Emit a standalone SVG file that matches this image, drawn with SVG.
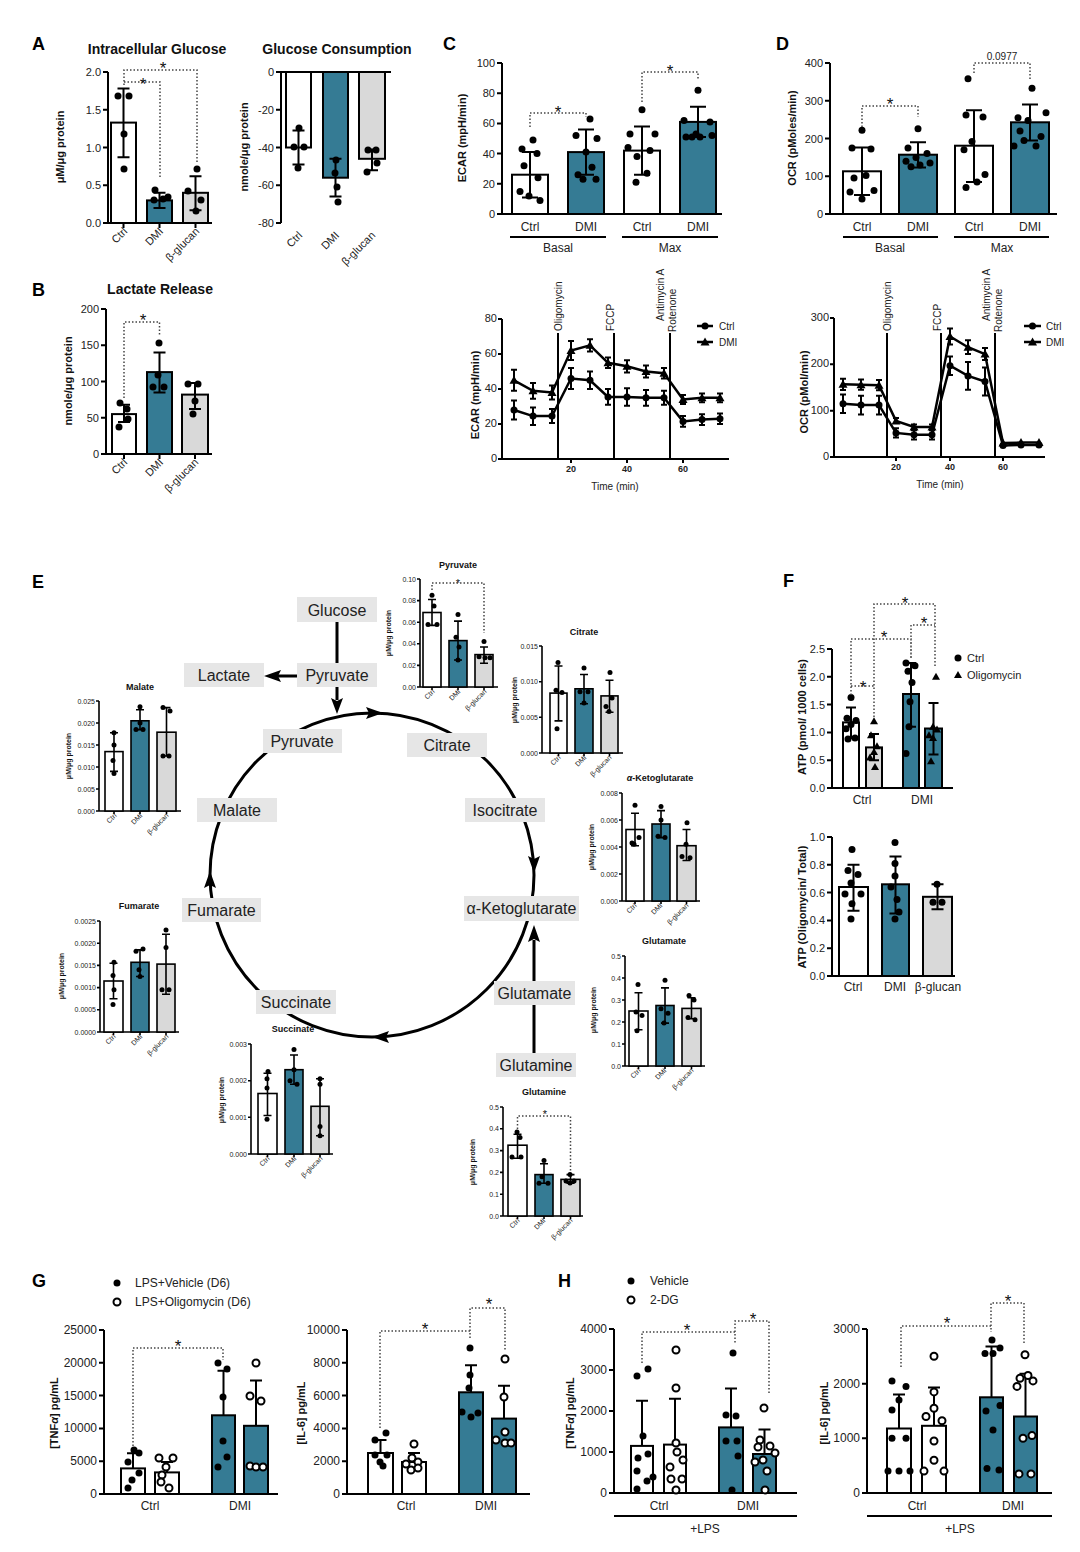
<svg xmlns="http://www.w3.org/2000/svg" xmlns:xlink="http://www.w3.org/1999/xlink" width="1080" height="1552" viewBox="0 0 1080 1552">
<style>
text{font-family:"Liberation Sans",Arial,sans-serif;fill:#222}
.pl{font-size:18px;font-weight:bold;fill:#000}
.ti{font-size:14px;font-weight:bold;text-anchor:middle;fill:#111}
.yl{font-size:11px;font-weight:bold;text-anchor:middle;fill:#111}
.tk{font-size:11px;text-anchor:end}
.tk12{font-size:12px;text-anchor:end}
.xl{font-size:11px;text-anchor:end}
.xc{font-size:12px;text-anchor:middle}
.st{font-size:17px;text-anchor:middle;fill:#111}
.rt{font-size:10px}
.lg{font-size:12px}
.ax{stroke:#000;stroke-width:2;fill:none}
.bw{fill:#fff;stroke:#000;stroke-width:2}
.bt{fill:#357b94;stroke:#000;stroke-width:2}
.bg{fill:#d9d9d9;stroke:#000;stroke-width:2}
.eb{stroke:#000;stroke-width:2;fill:none}
.sg{stroke:#444;stroke-width:1.5;fill:none;stroke-dasharray:1.5 2}
.d{fill:#000}
.o{fill:#fff;stroke:#000;stroke-width:2}
.nd{fill:#e6e6e6}
.nt{font-size:16px;text-anchor:middle;fill:#222}
.ln{stroke:#000;stroke-width:3;fill:none}
.tl{stroke:#000;stroke-width:2.5;fill:none}
.m .tk{font-size:7px}
.m .yl{font-size:7px}
.m .xl{font-size:7px}
.m .ti{font-size:9px}
.m .st{font-size:11px}
.m .ax,.m .bw,.m .bt,.m .bg,.m .eb{stroke-width:1.6}
</style>
<defs>
<path id="tri" d="M0,-4.5L4.5,3.5L-4.5,3.5Z"/>
<path id="trs" d="M0,-4L4,3L-4,3Z"/>
</defs>
<rect width="1080" height="1552" fill="#fff"/>

<!-- PANEL A -->
<g id="panelA">
<text class="pl" x="32" y="50">A</text>
<g id="A-intracellular-glucose">
<text class="ti" x="157" y="54">Intracellular Glucose</text>
<path class="ax" d="M108,72V223H212M103,72H108M103,109.75H108M103,147.5H108M103,185.25H108M103,223H108M123.5,223V228M159.5,223V228M195.5,223V228"/>
<text class="tk" x="101" y="76">2.0</text><text class="tk" x="101" y="113.75">1.5</text><text class="tk" x="101" y="151.5">1.0</text><text class="tk" x="101" y="189.25">0.5</text><text class="tk" x="101" y="227">0.0</text>
<text class="yl" transform="translate(64,147) rotate(-90)">μM/μg protein</text>
<rect class="bw" x="111" y="122.6" width="25" height="100.4"/>
<rect class="bt" x="147" y="200.4" width="25" height="22.6"/>
<rect class="bg" x="183" y="192.8" width="25" height="30.2"/>
<path class="eb" d="M123.5,88.6V157.3M117.5,88.6H129.5M117.5,157.3H129.5M159.5,192.8V207.9M153.5,192.8H165.5M153.5,207.9H165.5M195.5,176.2V210.2M189.5,176.2H201.5M189.5,210.2H201.5"/>
<circle class="d" cx="118" cy="96" r="3.5"/><circle class="d" cx="129" cy="96" r="3.5"/><circle class="d" cx="124" cy="134" r="3.5"/><circle class="d" cx="124" cy="169" r="3.5"/>
<circle class="d" cx="155" cy="190" r="3.5"/><circle class="d" cx="154" cy="200" r="3.5"/><circle class="d" cx="163" cy="199" r="3.5"/><circle class="d" cx="168" cy="197" r="3.5"/>
<circle class="d" cx="197" cy="169" r="3.5"/><circle class="d" cx="188" cy="191" r="3.5"/><circle class="d" cx="201" cy="200" r="3.5"/><circle class="d" cx="196" cy="211" r="3.5"/>
<path class="sg" d="M124,85V70H197V163M124,82H160V177"/>
<text class="st" x="143" y="90">*</text><text class="st" x="163" y="74">*</text>
<text class="xl" transform="translate(128,232) rotate(-45)">Ctrl</text>
<text class="xl" transform="translate(164,232) rotate(-45)">DMI</text>
<text class="xl" transform="translate(200,232) rotate(-45)">β-glucan</text>
</g>
<g id="A-glucose-consumption">
<text class="ti" x="337" y="54">Glucose Consumption</text>
<path class="ax" d="M281,223V72H391M276,72H281M276,109.75H281M276,147.5H281M276,185.25H281M276,223H281"/>
<text class="tk" x="274" y="76">0</text><text class="tk" x="274" y="113.75">-20</text><text class="tk" x="274" y="151.5">-40</text><text class="tk" x="274" y="189.25">-60</text><text class="tk" x="274" y="227">-80</text>
<text class="yl" transform="translate(248,147) rotate(-90)">nmole/μg protein</text>
<rect class="bw" x="286" y="72" width="25" height="75.5"/>
<rect class="bt" x="323" y="72" width="25" height="105.7"/>
<rect class="bg" x="359" y="72" width="26" height="86.8"/>
<path class="eb" d="M298.5,130.5V164.5M292.5,130.5H304.5M292.5,164.5H304.5M335.5,158.8V196.6M329.5,158.8H341.5M329.5,196.6H341.5M372,149.4V170.2M366,149.4H378M366,170.2H378"/>
<circle class="d" cx="299" cy="128" r="3.5"/><circle class="d" cx="294" cy="147" r="3.5"/><circle class="d" cx="304" cy="147" r="3.5"/><circle class="d" cx="298" cy="168" r="3.5"/>
<circle class="d" cx="336" cy="160" r="3.5"/><circle class="d" cx="335" cy="173" r="3.5"/><circle class="d" cx="337" cy="187" r="3.5"/><circle class="d" cx="338" cy="202" r="3.5"/>
<circle class="d" cx="368" cy="150" r="3.5"/><circle class="d" cx="376" cy="150" r="3.5"/><circle class="d" cx="377" cy="163" r="3.5"/><circle class="d" cx="367" cy="172" r="3.5"/>
<text class="xl" transform="translate(303,236) rotate(-45)">Ctrl</text>
<text class="xl" transform="translate(340,236) rotate(-45)">DMI</text>
<text class="xl" transform="translate(376,236) rotate(-45)">β-glucan</text>
</g>
</g>

<!-- PANEL B -->
<g id="panelB">
<text class="pl" x="32" y="296">B</text>
<text class="ti" x="160" y="294">Lactate Release</text>
<path class="ax" d="M106,309V454H212M101,309H106M101,345.25H106M101,381.5H106M101,417.75H106M101,454H106M124,454V459M159.5,454V459M195,454V459"/>
<text class="tk" x="99" y="313">200</text><text class="tk" x="99" y="349.25">150</text><text class="tk" x="99" y="385.5">100</text><text class="tk" x="99" y="421.75">50</text><text class="tk" x="99" y="458">0</text>
<text class="yl" transform="translate(72,381) rotate(-90)">nmole/μg protein</text>
<rect class="bw" x="112" y="414.1" width="24" height="39.9"/>
<rect class="bt" x="147" y="372.1" width="25" height="81.9"/>
<rect class="bg" x="182" y="394.6" width="26" height="59.4"/>
<path class="eb" d="M124,404.7V422.1M118,404.7H130M118,422.1H130M159.5,352.5V392.4M153.5,352.5H165.5M153.5,392.4H165.5M195,383V409M189,383H201M189,409H201"/>
<circle class="d" cx="120" cy="403" r="3.5"/><circle class="d" cx="127" cy="409" r="3.5"/><circle class="d" cx="128" cy="419" r="3.5"/><circle class="d" cx="119" cy="427" r="3.5"/>
<circle class="d" cx="159" cy="343" r="3.5"/><circle class="d" cx="158" cy="375" r="3.5"/><circle class="d" cx="153" cy="387" r="3.5"/><circle class="d" cx="164" cy="387" r="3.5"/>
<circle class="d" cx="188" cy="384" r="3.5"/><circle class="d" cx="198" cy="384" r="3.5"/><circle class="d" cx="195" cy="401" r="3.5"/><circle class="d" cx="193" cy="414" r="3.5"/>
<path class="sg" d="M124,398V322H159.5V335"/>
<text class="st" x="143" y="326">*</text>
<text class="xl" transform="translate(128,463) rotate(-45)">Ctrl</text>
<text class="xl" transform="translate(164,463) rotate(-45)">DMI</text>
<text class="xl" transform="translate(199,463) rotate(-45)">β-glucan</text>
</g>

<!-- PANEL C -->
<g id="panelC">
<text class="pl" x="443" y="50">C</text>
<g id="C-ecar-bars">
<path class="ax" d="M502,63V214H722M497,63H502M497,93.2H502M497,123.4H502M497,153.6H502M497,183.8H502M497,214H502"/>
<text class="tk" x="495" y="67">100</text><text class="tk" x="495" y="97.2">80</text><text class="tk" x="495" y="127.4">60</text><text class="tk" x="495" y="157.6">40</text><text class="tk" x="495" y="187.8">20</text><text class="tk" x="495" y="218">0</text>
<text class="yl" transform="translate(466,138) rotate(-90)" font-size="12">ECAR (mpH/min)</text>
<rect class="bw" x="512" y="174.7" width="36" height="39.3"/>
<rect class="bt" x="568" y="152.1" width="36" height="61.9"/>
<rect class="bw" x="624" y="150.6" width="36" height="63.4"/>
<rect class="bt" x="680" y="121.9" width="36" height="92.1"/>
<path class="eb" d="M530,152.1V197.4M522,152.1H538M522,197.4H538M586,129.4V174.7M578,129.4H594M578,174.7H594M642,126.4V174.7M634,126.4H650M634,174.7H650M698,106.8V137M690,106.8H706M690,137H706"/>
<g class="d">
<circle cx="533" cy="140" r="3.5"/><circle cx="522" cy="149" r="3.5"/><circle cx="537" cy="153.6" r="3.5"/><circle cx="524" cy="165.7" r="3.5"/><circle cx="538" cy="177.8" r="3.5"/><circle cx="520" cy="191.4" r="3.5"/><circle cx="529" cy="196" r="3.5"/><circle cx="540" cy="200.4" r="3.5"/>
<circle cx="590" cy="118.9" r="3.5"/><circle cx="576" cy="135.5" r="3.5"/><circle cx="597" cy="138.5" r="3.5"/><circle cx="586" cy="152.1" r="3.5"/><circle cx="592" cy="167.2" r="3.5"/><circle cx="578" cy="174.7" r="3.5"/><circle cx="583" cy="179.3" r="3.5"/><circle cx="596" cy="179.3" r="3.5"/>
<circle cx="642" cy="109.8" r="3.5"/><circle cx="630" cy="134" r="3.5"/><circle cx="655" cy="134" r="3.5"/><circle cx="628" cy="147.6" r="3.5"/><circle cx="650" cy="150.6" r="3.5"/><circle cx="637" cy="156.6" r="3.5"/><circle cx="647" cy="173.2" r="3.5"/><circle cx="636" cy="182.3" r="3.5"/>
<circle cx="698" cy="90.2" r="3.5"/><circle cx="684" cy="120.4" r="3.5"/><circle cx="710" cy="121.9" r="3.5"/><circle cx="696" cy="134" r="3.5"/><circle cx="712" cy="135.5" r="3.5"/><circle cx="686" cy="137" r="3.5"/><circle cx="700" cy="137" r="3.5"/><circle cx="692" cy="137" r="3.5"/>
</g>
<path class="sg" d="M530,127V113H586V117M642,102V72H698V80"/>
<text class="st" x="558" y="118">*</text><text class="st" x="670" y="77">*</text>
<text class="xc" x="530" y="231">Ctrl</text><text class="xc" x="586" y="231">DMI</text><text class="xc" x="642" y="231">Ctrl</text><text class="xc" x="698" y="231">DMI</text>
<path class="ax" d="M510,237H606M622,237H718"/>
<text class="xc" x="558" y="252">Basal</text><text class="xc" x="670" y="252">Max</text>
</g>
<g id="C-ecar-timecourse">
<path class="ax" d="M502,319V459H729M498,319H502M498,354H502M498,389H502M498,424H502M498,459H502M571,459V463M627,459V463M683,459V463"/>
<text class="tk" x="497" y="322" font-size="9">80</text><text class="tk" x="497" y="357" font-size="9">60</text><text class="tk" x="497" y="392" font-size="9">40</text><text class="tk" x="497" y="427" font-size="9">20</text><text class="tk" x="497" y="462" font-size="9">0</text>
<text x="571" y="472" font-size="9" font-weight="bold" text-anchor="middle">20</text><text x="627" y="472" font-size="9" font-weight="bold" text-anchor="middle">40</text><text x="683" y="472" font-size="9" font-weight="bold" text-anchor="middle">60</text>
<text x="615" y="490" font-size="10" text-anchor="middle">Time (min)</text>
<text class="yl" transform="translate(479,395) rotate(-90)" font-size="10">ECAR (mpH/min)</text>
<path class="ax" d="M558,333V459M614,333V459M670,333V459"/>
<text class="rt" transform="translate(561.5,331) rotate(-90)">Oligomycin</text>
<text class="rt" transform="translate(613.5,331) rotate(-90)">FCCP</text>
<text class="rt" transform="translate(664,321) rotate(-90)">Antimycin A</text>
<text class="rt" transform="translate(676,332) rotate(-90)">Rotenone</text>
<path class="tl" d="M697,326H713M697,342H713"/>
<circle class="d" cx="705" cy="326" r="3.5"/><use href="#tri" x="705" y="342"/>
<text x="719" y="329.5" font-size="10">Ctrl</text><text x="719" y="345.5" font-size="10">DMI</text>
<polyline class="tl" points="514,380.3 533,390.8 552,392.5 571,350.5 590,345.3 608,362.8 627,366.3 646,371.5 664,373.3 683,399.5 702,397.8 720,397.8"/>
<polyline class="tl" points="514,410 533,416.1 552,416.1 571,378.5 590,380.3 608,396.9 627,396.9 646,397.8 664,397.8 683,421.4 702,419.6 720,418.8"/>
<path class="eb" d="M514,369.8V390.8M511,369.8H517M511,390.8H517M533,382.9V398.7M530,382.9H536M530,398.7H536M552,385.5V399.5M549,385.5H555M549,399.5H555M571,340.9V360.1M568,340.9H574M568,360.1H574M590,339.2V351.4M587,339.2H593M587,351.4H593M608,357.5V368.1M605,357.5H611M605,368.1H611M627,360.2V372.4M624,360.2H630M624,372.4H630M646,365.4V377.6M643,365.4H649M643,377.6H649M664,368V378.6M661,368H667M661,378.6H667M683,395.1V403.9M680,395.1H686M680,403.9H686M702,393.4V402.2M699,393.4H705M699,402.2H705M720,393.4V402.2M717,393.4H723M717,402.2H723"/>
<path class="eb" d="M514,400.4V419.6M511,400.4H517M511,419.6H517M533,407.4V424.9M530,407.4H536M530,424.9H536M552,409.1V423.1M549,409.1H555M549,423.1H555M571,368V389M568,368H574M568,389H574M590,371.5V389M587,371.5H593M587,389H593M608,389V404.8M605,389H611M605,404.8H611M627,388.2V405.7M624,388.2H630M624,405.7H630M646,389.9V405.7M643,389.9H649M643,405.7H649M664,390.8V404.8M661,390.8H667M661,404.8H667M683,416.1V426.7M680,416.1H686M680,426.7H686M702,414.3V424.9M699,414.3H705M699,424.9H705M720,413.5V424.1M717,413.5H723M717,424.1H723"/>
<g class="d">
<use href="#tri" x="514" y="380.3"/><use href="#tri" x="533" y="390.8"/><use href="#tri" x="552" y="392.5"/><use href="#tri" x="571" y="350.5"/><use href="#tri" x="590" y="345.3"/><use href="#tri" x="608" y="362.8"/><use href="#tri" x="627" y="366.3"/><use href="#tri" x="646" y="371.5"/><use href="#tri" x="664" y="373.3"/><use href="#tri" x="683" y="399.5"/><use href="#tri" x="702" y="397.8"/><use href="#tri" x="720" y="397.8"/>
<circle cx="514" cy="410" r="3.5"/><circle cx="533" cy="416.1" r="3.5"/><circle cx="552" cy="416.1" r="3.5"/><circle cx="571" cy="378.5" r="3.5"/><circle cx="590" cy="380.3" r="3.5"/><circle cx="608" cy="396.9" r="3.5"/><circle cx="627" cy="396.9" r="3.5"/><circle cx="646" cy="397.8" r="3.5"/><circle cx="664" cy="397.8" r="3.5"/><circle cx="683" cy="421.4" r="3.5"/><circle cx="702" cy="419.6" r="3.5"/><circle cx="720" cy="418.8" r="3.5"/>
</g>
</g>
</g>

<!-- PANEL D -->
<g id="panelD">
<text class="pl" x="776" y="50">D</text>
<g id="D-ocr-bars">
<path class="ax" d="M830,63V214H1057M825,63H830M825,100.75H830M825,138.5H830M825,176.25H830M825,214H830"/>
<text class="tk" x="823" y="67">400</text><text class="tk" x="823" y="104.75">300</text><text class="tk" x="823" y="142.5">200</text><text class="tk" x="823" y="180.25">100</text><text class="tk" x="823" y="218">0</text>
<text class="yl" transform="translate(796,138) rotate(-90)" font-size="12">OCR (pMoles/min)</text>
<rect class="bw" x="843" y="171.3" width="38" height="42.7"/>
<rect class="bt" x="899" y="154.7" width="38" height="59.3"/>
<rect class="bw" x="955" y="145.7" width="38" height="68.3"/>
<rect class="bt" x="1011" y="122.3" width="38" height="91.7"/>
<path class="eb" d="M862,147.6V195.1M854,147.6H870M854,195.1H870M918,142.3V167.6M910,142.3H926M910,167.6H926M974,110.2V181.9M966,110.2H982M966,181.9H982M1030,104.5V140.4M1022,104.5H1038M1022,140.4H1038"/>
<g class="d">
<circle cx="862" cy="130.2" r="3.5"/><circle cx="852" cy="147.9" r="3.5"/><circle cx="871" cy="149" r="3.5"/><circle cx="866" cy="175.5" r="3.5"/><circle cx="854" cy="178.1" r="3.5"/><circle cx="874" cy="190.6" r="3.5"/><circle cx="850" cy="192.1" r="3.5"/><circle cx="862" cy="198.9" r="3.5"/>
<circle cx="918" cy="128.7" r="3.5"/><circle cx="908" cy="147.9" r="3.5"/><circle cx="927" cy="153.6" r="3.5"/><circle cx="916" cy="157.4" r="3.5"/><circle cx="906" cy="161.2" r="3.5"/><circle cx="930" cy="163" r="3.5"/><circle cx="920" cy="164.9" r="3.5"/><circle cx="911" cy="166.8" r="3.5"/>
<circle cx="968" cy="78.8" r="3.5"/><circle cx="966" cy="115.1" r="3.5"/><circle cx="983" cy="117" r="3.5"/><circle cx="972" cy="141.5" r="3.5"/><circle cx="964" cy="149.8" r="3.5"/><circle cx="985" cy="174.4" r="3.5"/><circle cx="977" cy="181.9" r="3.5"/><circle cx="966" cy="187.6" r="3.5"/>
<circle cx="1032" cy="88.3" r="3.5"/><circle cx="1046" cy="112.8" r="3.5"/><circle cx="1018" cy="117.7" r="3.5"/><circle cx="1028" cy="120.4" r="3.5"/><circle cx="1020" cy="130.9" r="3.5"/><circle cx="1041" cy="136.6" r="3.5"/><circle cx="1024" cy="140.4" r="3.5"/><circle cx="1036" cy="146" r="3.5"/><circle cx="1014" cy="146" r="3.5"/>
</g>
<path class="sg" d="M862,127V106H918V117M974,73V63H1030V80"/>
<text class="st" x="890" y="110">*</text><text x="1002" y="60" font-size="10" text-anchor="middle">0.0977</text>
<text class="xc" x="862" y="231">Ctrl</text><text class="xc" x="918" y="231">DMI</text><text class="xc" x="974" y="231">Ctrl</text><text class="xc" x="1030" y="231">DMI</text>
<path class="ax" d="M843,237H938M954,237H1049"/>
<text class="xc" x="890" y="252">Basal</text><text class="xc" x="1002" y="252">Max</text>
</g>
<g id="D-ocr-timecourse">
<path class="ax" d="M834,318V457H1045M830,318H834M830,364.3H834M830,410.7H834M830,457H834M896,457V461M950,457V461M1003,457V461"/>
<text class="tk" x="829" y="321" font-size="9">300</text><text class="tk" x="829" y="367.3" font-size="9">200</text><text class="tk" x="829" y="413.7" font-size="9">100</text><text class="tk" x="829" y="460" font-size="9">0</text>
<text x="896" y="470" font-size="9" font-weight="bold" text-anchor="middle">20</text><text x="950" y="470" font-size="9" font-weight="bold" text-anchor="middle">40</text><text x="1003" y="470" font-size="9" font-weight="bold" text-anchor="middle">60</text>
<text x="940" y="488" font-size="10" text-anchor="middle">Time (min)</text>
<text class="yl" transform="translate(808,392) rotate(-90)" font-size="10">OCR (pMol/min)</text>
<path class="ax" d="M887,333V457M941,333V457M995,333V457"/>
<text class="rt" transform="translate(890.5,331) rotate(-90)">Oligomycin</text>
<text class="rt" transform="translate(941,331) rotate(-90)">FCCP</text>
<text class="rt" transform="translate(990,321) rotate(-90)">Antimycin A</text>
<text class="rt" transform="translate(1002,332) rotate(-90)">Rotenone</text>
<path class="tl" d="M1024,326H1041M1024,342H1041"/>
<circle class="d" cx="1032.5" cy="326" r="3.5"/><use href="#tri" x="1032.5" y="342"/>
<text x="1046" y="329.5" font-size="10">Ctrl</text><text x="1046" y="345.5" font-size="10">DMI</text>
<polyline class="tl" points="843,384.3 861,384.7 879,385.2 896,420.9 914,426.9 932,426.9 950,336.5 968,347.2 985,354.1 1003,443.1 1021,442.6 1039,442.6"/>
<polyline class="tl" points="843,403.7 861,405.1 879,405.1 896,432.9 914,434.8 932,434.8 950,365.7 968,375.9 985,381.5 1003,445.4 1021,445 1039,445"/>
<path class="eb" d="M843,378.7V389.9M840,378.7H846M840,389.9H846M861,379.6V389.8M858,379.6H864M858,389.8H864M879,380.1V390.3M876,380.1H882M876,390.3H882M896,418.1V423.7M893,418.1H899M914,424.6V429.2M911,424.6H917M932,424.6V429.2M929,424.6H935M950,328.6V344.4M947,328.6H953M947,344.4H953M968,340.3V354.1M965,340.3H971M965,354.1H971M985,348.1V360.1M982,348.1H988M982,360.1H988"/>
<path class="eb" d="M843,394.4V413M840,394.4H846M840,413H846M861,395.8V414.4M858,395.8H864M858,414.4H864M879,395.8V414.4M876,395.8H882M876,414.4H882M896,428.3V437.5M893,428.3H899M893,437.5H899M914,430.2V439.4M911,430.2H917M911,439.4H917M932,430.2V439.4M929,430.2H935M929,439.4H935M950,356.4V375M947,356.4H953M947,375H953M968,362V389.8M965,362H971M965,389.8H971M985,367.6V395.4M982,367.6H988M982,395.4H988"/>
<g class="d">
<use href="#tri" x="843" y="384.3"/><use href="#tri" x="861" y="384.7"/><use href="#tri" x="879" y="385.2"/><use href="#tri" x="896" y="420.9"/><use href="#tri" x="914" y="426.9"/><use href="#tri" x="932" y="426.9"/><use href="#tri" x="950" y="336.5"/><use href="#tri" x="968" y="347.2"/><use href="#tri" x="985" y="354.1"/><use href="#tri" x="1003" y="443.1"/><use href="#tri" x="1021" y="442.6"/><use href="#tri" x="1039" y="442.6"/>
<circle cx="843" cy="403.7" r="3.5"/><circle cx="861" cy="405.1" r="3.5"/><circle cx="879" cy="405.1" r="3.5"/><circle cx="896" cy="432.9" r="3.5"/><circle cx="914" cy="434.8" r="3.5"/><circle cx="932" cy="434.8" r="3.5"/><circle cx="950" cy="365.7" r="3.5"/><circle cx="968" cy="375.9" r="3.5"/><circle cx="985" cy="381.5" r="3.5"/><circle cx="1003" cy="445.4" r="3.5"/><circle cx="1021" cy="445" r="3.5"/><circle cx="1039" cy="445" r="3.5"/>
</g>
</g>
</g>

<!-- PANEL E -->
<g id="panelE">
<text class="pl" x="32" y="588">E</text>
<g id="connectors">
<circle class="ln" cx="372" cy="875" r="162"/>
<path class="ln" d="M337,622V663M297,676H278M337,687V700M534,1053V940"/>
<path class="d" d="M264,676L281,670L278,676L281,682Z"/>
<path class="d" d="M337,714L331,698L337,701L343,698Z"/>
<path class="d" d="M534,925L528,942L534,939L540,942Z"/>
<path class="d" d="M383,713L366,707L369,713L366,719Z"/>
<path class="d" d="M534,873L528,856L534,859L540,856Z"/>
<path class="d" d="M372,1037L389,1031L386,1037L389,1043Z"/>
<path class="d" d="M210,871L204,888L210,885L216,888Z"/>
</g>
<g id="node-glucose"><rect class="nd" x="297" y="597" width="80" height="25"/><text class="nt" x="337" y="616">Glucose</text></g>
<g id="node-pyruvate-top"><rect class="nd" x="297" y="663" width="80" height="24"/><text class="nt" x="337" y="681">Pyruvate</text></g>
<g id="node-lactate"><rect class="nd" x="184" y="663" width="80" height="24"/><text class="nt" x="224" y="681">Lactate</text></g>
<g id="node-pyruvate"><rect class="nd" x="263" y="729" width="79" height="24"/><text class="nt" x="302" y="747">Pyruvate</text></g>
<g id="node-citrate"><rect class="nd" x="407" y="733" width="80" height="24"/><text class="nt" x="447" y="751">Citrate</text></g>
<g id="node-isocitrate"><rect class="nd" x="465" y="798" width="80" height="24"/><text class="nt" x="505" y="816">Isocitrate</text></g>
<g id="node-malate"><rect class="nd" x="197" y="798" width="80" height="24"/><text class="nt" x="237" y="816">Malate</text></g>
<g id="node-akg"><rect class="nd" x="464" y="896" width="115" height="25"/><text class="nt" x="521.5" y="914">α-Ketoglutarate</text></g>
<g id="node-fumarate"><rect class="nd" x="182" y="898" width="79" height="24"/><text class="nt" x="221.5" y="916">Fumarate</text></g>
<g id="node-succinate"><rect class="nd" x="256" y="990" width="80" height="24"/><text class="nt" x="296" y="1008">Succinate</text></g>
<g id="node-glutamate"><rect class="nd" x="494" y="981" width="81" height="24"/><text class="nt" x="534.5" y="999">Glutamate</text></g>
<g id="node-glutamine"><rect class="nd" x="496" y="1053" width="80" height="24"/><text class="nt" x="536" y="1071">Glutamine</text></g>

<g id="E-pyruvate" class="m">
<text class="ti" x="458" y="568">Pyruvate</text>
<path class="ax" d="M420,579V687H498M417,579H420M417,600.6H420M417,622.2H420M417,643.8H420M417,665.4H420M417,687H420M432,687V690M458,687V690M484,687V690"/>
<text class="tk" x="416" y="581.5">0.10</text><text class="tk" x="416" y="603.1">0.08</text><text class="tk" x="416" y="624.7">0.06</text><text class="tk" x="416" y="646.3">0.04</text><text class="tk" x="416" y="667.9">0.02</text><text class="tk" x="416" y="689.5">0.00</text>
<text class="yl" transform="translate(391,633) rotate(-90)">μM/μg protein</text>
<rect class="bw" x="423" y="612.5" width="18" height="74.5"/><rect class="bt" x="449" y="640.6" width="18" height="46.4"/><rect class="bg" x="475" y="654.6" width="18" height="32.4"/>
<path class="eb" d="M432,599.5V625.4M428,599.5H436M428,625.4H436M458,621.1V660M454,621.1H462M454,660H462M484,647V663.2M480,647H488M480,663.2H488"/>
<g class="d"><circle cx="432" cy="595.2" r="2.5"/><circle cx="434" cy="606" r="2.5"/><circle cx="428" cy="624.4" r="2.5"/><circle cx="437" cy="624.4" r="2.5"/><circle cx="458" cy="614.6" r="2.5"/><circle cx="456" cy="637.3" r="2.5"/><circle cx="459" cy="647" r="2.5"/><circle cx="458" cy="660" r="2.5"/><circle cx="484" cy="641.6" r="2.5"/><circle cx="479" cy="656.8" r="2.5"/><circle cx="485" cy="657.8" r="2.5"/><circle cx="490" cy="657.8" r="2.5"/></g>
<path class="sg" d="M432,590V583H484V633" stroke-width="1.2"/>
<text class="st" x="458" y="587">*</text>
<text class="xl" transform="translate(435,692) rotate(-45)">Ctrl</text><text class="xl" transform="translate(461,692) rotate(-45)">DMI</text><text class="xl" transform="translate(487,692) rotate(-45)">β-glucan</text>
</g>

<g id="E-citrate" class="m">
<text class="ti" x="584" y="635">Citrate</text>
<path class="ax" d="M542,646V753H623M539,646H542M539,681.7H542M539,717.3H542M539,753H542M558.5,753V756M584,753V756M609.5,753V756"/>
<text class="tk" x="538" y="648.5">0.015</text><text class="tk" x="538" y="684.2">0.010</text><text class="tk" x="538" y="719.8">0.005</text><text class="tk" x="538" y="755.5">0.000</text>
<text class="yl" transform="translate(517,700) rotate(-90)">μM/μg protein</text>
<rect class="bw" x="550" y="693.1" width="17" height="59.9"/><rect class="bt" x="575" y="688.8" width="18" height="64.2"/><rect class="bg" x="601" y="695.9" width="17" height="57.1"/>
<path class="eb" d="M558.5,666V720.9M554.5,666H562.5M554.5,720.9H562.5M584,674.5V703.8M580,674.5H588M580,703.8H588M609.5,680.2V712.3M605.5,680.2H613.5M605.5,712.3H613.5"/>
<g class="d"><circle cx="558" cy="662.4" r="2.5"/><circle cx="556" cy="690.2" r="2.5"/><circle cx="562" cy="692.4" r="2.5"/><circle cx="557" cy="728.7" r="2.5"/><circle cx="584" cy="668.1" r="2.5"/><circle cx="580" cy="691.7" r="2.5"/><circle cx="588" cy="691.7" r="2.5"/><circle cx="584" cy="703.1" r="2.5"/><circle cx="610" cy="672.4" r="2.5"/><circle cx="612" cy="698.1" r="2.5"/><circle cx="606" cy="706.6" r="2.5"/><circle cx="609" cy="711.6" r="2.5"/></g>
<text class="xl" transform="translate(561,758) rotate(-45)">Ctrl</text><text class="xl" transform="translate(587,758) rotate(-45)">DMI</text><text class="xl" transform="translate(612,758) rotate(-45)">β-glucan</text>
</g>

<g id="E-akg" class="m">
<text class="ti" x="660" y="781"><tspan font-style="italic">α</tspan>-Ketoglutarate</text>
<path class="ax" d="M622,793V901H700M619,793H622M619,820H622M619,847H622M619,874H622M619,901H622M635,901V904M661,901V904M686.5,901V904"/>
<text class="tk" x="618" y="795.5">0.008</text><text class="tk" x="618" y="822.5">0.006</text><text class="tk" x="618" y="849.5">0.004</text><text class="tk" x="618" y="876.5">0.002</text><text class="tk" x="618" y="903.5">0.000</text>
<text class="yl" transform="translate(594,847) rotate(-90)">μM/μg protein</text>
<rect class="bw" x="626" y="829.5" width="18" height="71.5"/><rect class="bt" x="652" y="824" width="18" height="77"/><rect class="bg" x="677" y="845.7" width="19" height="55.3"/>
<path class="eb" d="M635,813.3V845.7M631,813.3H639M631,845.7H639M661,810.6V837.6M657,810.6H665M657,837.6H665M686.5,829.5V860.5M682.5,829.5H690.5M682.5,860.5H690.5"/>
<g class="d"><circle cx="635" cy="805.2" r="2.5"/><circle cx="639" cy="837.5" r="2.5"/><circle cx="632" cy="843" r="2.5"/><circle cx="634" cy="844.3" r="2.5"/><circle cx="661" cy="806.5" r="2.5"/><circle cx="661" cy="820" r="2.5"/><circle cx="658" cy="836.2" r="2.5"/><circle cx="665" cy="837.6" r="2.5"/><circle cx="687" cy="822.7" r="2.5"/><circle cx="686" cy="844.3" r="2.5"/><circle cx="682" cy="856.5" r="2.5"/><circle cx="690" cy="857.8" r="2.5"/></g>
<text class="xl" transform="translate(637,906) rotate(-45)">Ctrl</text><text class="xl" transform="translate(663,906) rotate(-45)">DMI</text><text class="xl" transform="translate(689,906) rotate(-45)">β-glucan</text>
</g>

<g id="E-glutamate" class="m">
<text class="ti" x="664" y="944">Glutamate</text>
<path class="ax" d="M625,956V1066H705M622,956H625M622,978H625M622,1000H625M622,1022H625M622,1044H625M622,1066H625M638.5,1066V1069M665,1066V1069M691.5,1066V1069"/>
<text class="tk" x="621" y="958.5">0.5</text><text class="tk" x="621" y="980.5">0.4</text><text class="tk" x="621" y="1002.5">0.3</text><text class="tk" x="621" y="1024.5">0.2</text><text class="tk" x="621" y="1046.5">0.1</text><text class="tk" x="621" y="1068.5">0.0</text>
<text class="yl" transform="translate(596,1010) rotate(-90)">μM/μg protein</text>
<rect class="bw" x="629" y="1011" width="19" height="55"/><rect class="bt" x="656" y="1005.5" width="18" height="60.5"/><rect class="bg" x="682" y="1008.4" width="19" height="57.6"/>
<path class="eb" d="M638.5,992.7V1029.7M634.5,992.7H642.5M634.5,1029.7H642.5M665,987.9V1023.1M661,987.9H669M661,1023.1H669M691.5,997.8V1018.7M687.5,997.8H695.5M687.5,1018.7H695.5"/>
<g class="d"><circle cx="638" cy="984.6" r="2.5"/><circle cx="636" cy="1012.1" r="2.5"/><circle cx="642" cy="1015.4" r="2.5"/><circle cx="637" cy="1030.8" r="2.5"/><circle cx="665" cy="980.2" r="2.5"/><circle cx="661" cy="1008.8" r="2.5"/><circle cx="668" cy="1013.2" r="2.5"/><circle cx="664" cy="1023.1" r="2.5"/><circle cx="689" cy="995.6" r="2.5"/><circle cx="694" cy="1000" r="2.5"/><circle cx="688" cy="1017.6" r="2.5"/><circle cx="695" cy="1019.8" r="2.5"/></g>
<text class="xl" transform="translate(641,1071) rotate(-45)">Ctrl</text><text class="xl" transform="translate(667,1071) rotate(-45)">DMI</text><text class="xl" transform="translate(694,1071) rotate(-45)">β-glucan</text>
</g>

<g id="E-glutamine" class="m">
<text class="ti" x="544" y="1095">Glutamine</text>
<path class="ax" d="M503,1107V1216H583M500,1107H503M500,1128.8H503M500,1150.6H503M500,1172.4H503M500,1194.2H503M500,1216H503M517.5,1216V1219M544,1216V1219M570.5,1216V1219"/>
<text class="tk" x="499" y="1109.5">0.5</text><text class="tk" x="499" y="1131.3">0.4</text><text class="tk" x="499" y="1153.1">0.3</text><text class="tk" x="499" y="1174.9">0.2</text><text class="tk" x="499" y="1196.7">0.1</text><text class="tk" x="499" y="1218.5">0.0</text>
<text class="yl" transform="translate(475,1162) rotate(-90)">μM/μg protein</text>
<rect class="bw" x="508" y="1145.2" width="19" height="70.8"/><rect class="bt" x="535" y="1174.6" width="18" height="41.4"/><rect class="bg" x="561" y="1179.4" width="19" height="36.6"/>
<path class="eb" d="M517.5,1134.3V1158.2M513.5,1134.3H521.5M513.5,1158.2H521.5M544,1163.7V1183.3M540,1163.7H548M540,1183.3H548M570.5,1174.6V1183.3M566.5,1174.6H574.5M566.5,1183.3H574.5"/>
<g class="d"><circle cx="517" cy="1132.1" r="2.5"/><circle cx="520" cy="1137.5" r="2.5"/><circle cx="512" cy="1157.1" r="2.5"/><circle cx="521" cy="1157.1" r="2.5"/><circle cx="544" cy="1160.4" r="2.5"/><circle cx="542" cy="1176.8" r="2.5"/><circle cx="539" cy="1183.3" r="2.5"/><circle cx="548" cy="1183.3" r="2.5"/><circle cx="570" cy="1174.6" r="2.5"/><circle cx="566" cy="1181.1" r="2.5"/><circle cx="574" cy="1181.1" r="2.5"/><circle cx="570" cy="1183" r="2.5"/></g>
<path class="sg" d="M517.5,1129V1116H570.5V1172" stroke-width="1.2"/>
<text class="st" x="545" y="1118">*</text>
<text class="xl" transform="translate(520,1221) rotate(-45)">Ctrl</text><text class="xl" transform="translate(546,1221) rotate(-45)">DMI</text><text class="xl" transform="translate(573,1221) rotate(-45)">β-glucan</text>
</g>

<g id="E-malate" class="m">
<text class="ti" x="140" y="690">Malate</text>
<path class="ax" d="M99,701V811H181M96,701H99M96,723H99M96,745H99M96,767H99M96,789H99M96,811H99M114,811V814M140,811V814M166.5,811V814"/>
<text class="tk" x="95" y="703.5">0.025</text><text class="tk" x="95" y="725.5">0.020</text><text class="tk" x="95" y="747.5">0.015</text><text class="tk" x="95" y="769.5">0.010</text><text class="tk" x="95" y="791.5">0.005</text><text class="tk" x="95" y="813.5">0.000</text>
<text class="yl" transform="translate(71,756) rotate(-90)">μM/μg protein</text>
<rect class="bw" x="105" y="751.6" width="18" height="59.4"/><rect class="bt" x="131" y="720.8" width="18" height="90.2"/><rect class="bg" x="157" y="732.2" width="19" height="78.8"/>
<path class="eb" d="M114,732.7V771.4M110,732.7H118M110,771.4H118M140,709.8V729.6M136,709.8H144M136,729.6H144M166.5,707.6V756M162.5,707.6H170.5M162.5,756H170.5"/>
<g class="d"><circle cx="114" cy="732.7" r="2.5"/><circle cx="114" cy="745" r="2.5"/><circle cx="113" cy="760.4" r="2.5"/><circle cx="114" cy="773.6" r="2.5"/><circle cx="140" cy="706.7" r="2.5"/><circle cx="140" cy="723" r="2.5"/><circle cx="136" cy="729.6" r="2.5"/><circle cx="143" cy="729.6" r="2.5"/><circle cx="163" cy="707.6" r="2.5"/><circle cx="170" cy="711.1" r="2.5"/><circle cx="163" cy="756" r="2.5"/><circle cx="169" cy="756" r="2.5"/></g>
<text class="xl" transform="translate(117,816) rotate(-45)">Ctrl</text><text class="xl" transform="translate(143,816) rotate(-45)">DMI</text><text class="xl" transform="translate(169,816) rotate(-45)">β-glucan</text>
</g>

<g id="E-fumarate" class="m">
<text class="ti" x="139" y="909">Fumarate</text>
<path class="ax" d="M100,921V1032H179M97,921H100M97,943.2H100M97,965.4H100M97,987.6H100M97,1009.8H100M97,1032H100M113.5,1032V1035M140,1032V1035M166,1032V1035"/>
<text class="tk" x="96" y="923.5">0.0025</text><text class="tk" x="96" y="945.7">0.0020</text><text class="tk" x="96" y="967.9">0.0015</text><text class="tk" x="96" y="990.1">0.0010</text><text class="tk" x="96" y="1012.3">0.0005</text><text class="tk" x="96" y="1034.5">0.0000</text>
<text class="yl" transform="translate(64,976) rotate(-90)">μM/μg protein</text>
<rect class="bw" x="104" y="981" width="19" height="51"/><rect class="bt" x="131" y="962.3" width="18" height="69.7"/><rect class="bg" x="157" y="964.1" width="18" height="67.9"/>
<path class="eb" d="M113.5,963.2V998.7M109.5,963.2H117.5M109.5,998.7H117.5M140,949.9V976.5M136,949.9H144M136,976.5H144M166,934.3V994.3M162,934.3H170M162,994.3H170"/>
<g class="d"><circle cx="114" cy="962.3" r="2.5"/><circle cx="113" cy="975.6" r="2.5"/><circle cx="114" cy="989.8" r="2.5"/><circle cx="113" cy="1004.5" r="2.5"/><circle cx="143" cy="949" r="2.5"/><circle cx="136" cy="951.2" r="2.5"/><circle cx="139" cy="969.8" r="2.5"/><circle cx="140" cy="976.5" r="2.5"/><circle cx="166" cy="929.9" r="2.5"/><circle cx="166" cy="947.6" r="2.5"/><circle cx="162" cy="989.8" r="2.5"/><circle cx="169" cy="989.8" r="2.5"/></g>
<text class="xl" transform="translate(116,1037) rotate(-45)">Ctrl</text><text class="xl" transform="translate(143,1037) rotate(-45)">DMI</text><text class="xl" transform="translate(169,1037) rotate(-45)">β-glucan</text>
</g>

<g id="E-succinate" class="m">
<text class="ti" x="293" y="1032">Succinate</text>
<path class="ax" d="M251,1044V1154H333M248,1044H251M248,1080.7H251M248,1117.3H251M248,1154H251M267.5,1154V1157M294,1154V1157M320,1154V1157"/>
<text class="tk" x="247" y="1046.5">0.003</text><text class="tk" x="247" y="1083.2">0.002</text><text class="tk" x="247" y="1119.8">0.001</text><text class="tk" x="247" y="1156.5">0.000</text>
<text class="yl" transform="translate(224,1100) rotate(-90)">μM/μg protein</text>
<rect class="bw" x="258" y="1093.5" width="19" height="60.5"/><rect class="bt" x="285" y="1069.7" width="18" height="84.3"/><rect class="bg" x="311" y="1106.3" width="18" height="47.7"/>
<path class="eb" d="M267.5,1073.3V1115.5M263.5,1073.3H271.5M263.5,1115.5H271.5M294,1055V1084.3M290,1055H298M290,1084.3H298M320,1078.8V1135.7M316,1078.8H324M316,1135.7H324"/>
<g class="d"><circle cx="268" cy="1071.5" r="2.5"/><circle cx="267" cy="1078.8" r="2.5"/><circle cx="267" cy="1088" r="2.5"/><circle cx="267" cy="1119.2" r="2.5"/><circle cx="294" cy="1049.5" r="2.5"/><circle cx="294" cy="1069.7" r="2.5"/><circle cx="290" cy="1080.7" r="2.5"/><circle cx="297" cy="1084.3" r="2.5"/><circle cx="320" cy="1078.8" r="2.5"/><circle cx="320" cy="1084.3" r="2.5"/><circle cx="320" cy="1126.5" r="2.5"/><circle cx="320" cy="1135.7" r="2.5"/></g>
<text class="xl" transform="translate(270,1159) rotate(-45)">Ctrl</text><text class="xl" transform="translate(297,1159) rotate(-45)">DMI</text><text class="xl" transform="translate(323,1159) rotate(-45)">β-glucan</text>
</g>
</g>

<!-- PANEL F -->
<g id="panelF">
<text class="pl" x="783" y="587">F</text>
<g id="F-atp">
<path class="ax" d="M832,649V788H953M827,649H832M827,676.8H832M827,704.6H832M827,732.4H832M827,760.2H832M827,788H832"/>
<text class="tk" x="825" y="653">2.5</text><text class="tk" x="825" y="680.8">2.0</text><text class="tk" x="825" y="708.6">1.5</text><text class="tk" x="825" y="736.4">1.0</text><text class="tk" x="825" y="764.2">0.5</text><text class="tk" x="825" y="792">0.0</text>
<text class="yl" transform="translate(806,717) rotate(-90)">ATP (pmol/ 1000 cells)</text>
<rect class="bw" x="843" y="722.4" width="16" height="65.6"/><rect class="bg" x="866" y="747.4" width="16" height="40.6"/><rect class="bt" x="903" y="694" width="16" height="94"/><rect class="bt" x="925" y="728.5" width="17" height="59.5"/>
<path class="eb" d="M851,707.4V738M846,707.4H856M846,738H856M874,734.1V760.2M869,734.1H879M869,760.2H879M911,662.9V726.8M906,662.9H916M906,726.8H916M933.5,702.9V754.6M928.5,702.9H938.5M928.5,754.6H938.5"/>
<g class="d">
<circle cx="851" cy="697.4" r="3.5"/><circle cx="847" cy="718.3" r="3.5"/><circle cx="856" cy="720.5" r="3.5"/><circle cx="851" cy="724.4" r="3.5"/><circle cx="846" cy="728.8" r="3.5"/><circle cx="855" cy="738" r="3.5"/><circle cx="848" cy="739" r="3.5"/>
<use href="#trs" x="874" y="721.3"/><use href="#trs" x="871" y="735.2"/><use href="#trs" x="877" y="746.3"/><use href="#trs" x="874" y="751.9"/><use href="#trs" x="870" y="757.4"/><use href="#trs" x="875" y="766.9"/>
<circle cx="906" cy="662.9" r="3.5"/><circle cx="915" cy="665.7" r="3.5"/><circle cx="908" cy="671.2" r="3.5"/><circle cx="912" cy="682.4" r="3.5"/><circle cx="910" cy="701.8" r="3.5"/><circle cx="909" cy="726.8" r="3.5"/><circle cx="906" cy="753.5" r="3.5"/>
<use href="#trs" x="936" y="676.8"/><use href="#trs" x="933" y="726.8"/><use href="#trs" x="937" y="729.6"/><use href="#trs" x="929" y="735.2"/><use href="#trs" x="933" y="738"/><use href="#trs" x="931" y="761.3"/>
</g>
<path class="sg" d="M851,695V639H911V658M851,686H874V717M874,717V604H935V668M911,658V625H935"/>
<text class="st" x="863" y="693">*</text><text class="st" x="884" y="643">*</text><text class="st" x="905" y="609">*</text><text class="st" x="924" y="629">*</text>
<circle class="d" cx="958" cy="658" r="3.5"/><use class="d" href="#trs" x="958" y="675"/>
<text x="967" y="662" font-size="11">Ctrl</text><text x="967" y="679" font-size="11">Oligomycin</text>
<text class="xc" x="862" y="804" font-size="11">Ctrl</text><text class="xc" x="922" y="804" font-size="11">DMI</text>
</g>
<g id="F-atp-ratio">
<path class="ax" d="M832,837V976H955M827,837H832M827,864.8H832M827,892.6H832M827,920.4H832M827,948.2H832M827,976H832"/>
<text class="tk" x="825" y="841">1.0</text><text class="tk" x="825" y="868.8">0.8</text><text class="tk" x="825" y="896.6">0.6</text><text class="tk" x="825" y="924.4">0.4</text><text class="tk" x="825" y="952.2">0.2</text><text class="tk" x="825" y="980">0.0</text>
<text class="yl" transform="translate(806,907) rotate(-90)">ATP (Oligomycin/ Total)</text>
<rect class="bw" x="839" y="887" width="29" height="89"/><rect class="bt" x="882" y="884.3" width="27" height="91.7"/><rect class="bg" x="923" y="896.8" width="29" height="79.2"/>
<path class="eb" d="M853.5,864.8V910.7M847.5,864.8H859.5M847.5,910.7H859.5M895.5,856.5V913.5M889.5,856.5H901.5M889.5,913.5H901.5M937.5,884.3V909.3M931.5,884.3H943.5M931.5,909.3H943.5"/>
<g class="d">
<circle cx="852" cy="849.5" r="3.5"/><circle cx="848" cy="870.4" r="3.5"/><circle cx="858" cy="874.5" r="3.5"/><circle cx="851" cy="882.9" r="3.5"/><circle cx="845" cy="894" r="3.5"/><circle cx="861" cy="894" r="3.5"/><circle cx="852" cy="903.7" r="3.5"/><circle cx="851" cy="919" r="3.5"/>
<circle cx="895" cy="842.6" r="3.5"/><circle cx="895" cy="863.4" r="3.5"/><circle cx="895" cy="875.9" r="3.5"/><circle cx="891" cy="887" r="3.5"/><circle cx="897" cy="899.5" r="3.5"/><circle cx="899" cy="912" r="3.5"/><circle cx="895" cy="919" r="3.5"/>
<circle cx="937" cy="884.3" r="3.5"/><circle cx="933" cy="902.3" r="3.5"/><circle cx="942" cy="902.3" r="3.5"/>
</g>
<text class="xc" x="853" y="991" font-size="11">Ctrl</text><text class="xc" x="895" y="991" font-size="11">DMI</text><text class="xc" x="938" y="991" font-size="11">β-glucan</text>
</g>
</g>

<!-- PANEL G -->
<g id="panelG">
<text class="pl" x="32" y="1287">G</text>
<circle class="d" cx="117" cy="1283" r="3.5"/><circle class="o" cx="117" cy="1302" r="3.5"/>
<text class="lg" x="135" y="1287">LPS+Vehicle (D6)</text><text class="lg" x="135" y="1306">LPS+Oligomycin (D6)</text>
<g id="G-tnf">
<path class="ax" d="M104,1330V1494H278M99,1330H104M99,1362.8H104M99,1395.6H104M99,1428.4H104M99,1461.2H104M99,1494H104"/>
<text class="tk12" x="97" y="1334">25000</text><text class="tk12" x="97" y="1366.8">20000</text><text class="tk12" x="97" y="1399.6">15000</text><text class="tk12" x="97" y="1432.4">10000</text><text class="tk12" x="97" y="1465.2">5000</text><text class="tk12" x="97" y="1498">0</text>
<text class="yl" transform="translate(58,1413) rotate(-90)" font-size="12">[TNF<tspan font-style="italic">α</tspan>] pg/mL</text>
<rect class="bw" x="121" y="1468.4" width="24" height="25.6"/><rect class="bw" x="155" y="1472.4" width="24" height="21.6"/><rect class="bt" x="212" y="1415.3" width="23" height="78.7"/><rect class="bt" x="244" y="1425.8" width="24" height="68.2"/>
<path class="eb" d="M133,1468.4V1453.3M127,1453.3H139M167,1472.4V1461.9M161,1461.9H173M223.5,1415.3V1370.7M217.5,1370.7H229.5M256,1425.8V1380.5M250,1380.5H262"/>
<g class="d"><circle cx="134" cy="1450" r="3.5"/><circle cx="139" cy="1453" r="3.5"/><circle cx="128" cy="1462" r="3.5"/><circle cx="139" cy="1473" r="3.5"/><circle cx="132" cy="1480" r="3.5"/><circle cx="128" cy="1488" r="3.5"/>
<circle cx="218" cy="1363" r="3.5"/><circle cx="227" cy="1369" r="3.5"/><circle cx="223" cy="1397" r="3.5"/><circle cx="223" cy="1441" r="3.5"/><circle cx="227" cy="1457" r="3.5"/><circle cx="218" cy="1467" r="3.5"/></g>
<g class="o"><circle cx="159" cy="1458" r="3.5"/><circle cx="173" cy="1458" r="3.5"/><circle cx="166" cy="1467" r="3.5"/><circle cx="162" cy="1475" r="3.5"/><circle cx="161" cy="1482" r="3.5"/><circle cx="169" cy="1488" r="3.5"/>
<circle cx="256" cy="1363" r="3.5"/><circle cx="250" cy="1396" r="3.5"/><circle cx="261" cy="1401" r="3.5"/><circle cx="250" cy="1466" r="3.5"/><circle cx="256" cy="1467" r="3.5"/><circle cx="263" cy="1467" r="3.5"/></g>
<path class="sg" d="M133,1446V1348H223V1360"/>
<text class="st" x="178" y="1352">*</text>
<text class="xc" x="150" y="1510">Ctrl</text><text class="xc" x="240" y="1510">DMI</text>
</g>
<g id="G-il6">
<path class="ax" d="M347,1330V1494H530M342,1330H347M342,1362.8H347M342,1395.6H347M342,1428.4H347M342,1461.2H347M342,1494H347"/>
<text class="tk12" x="340" y="1334">10000</text><text class="tk12" x="340" y="1366.8">8000</text><text class="tk12" x="340" y="1399.6">6000</text><text class="tk12" x="340" y="1432.4">4000</text><text class="tk12" x="340" y="1465.2">2000</text><text class="tk12" x="340" y="1498">0</text>
<text class="yl" transform="translate(305,1413) rotate(-90)" font-size="12">[IL-6] pg/mL</text>
<rect class="bw" x="368" y="1453" width="25" height="41"/><rect class="bw" x="402" y="1462" width="24" height="32"/><rect class="bt" x="459" y="1392.3" width="24" height="101.7"/><rect class="bt" x="492" y="1418.6" width="24" height="75.4"/>
<path class="eb" d="M380.5,1453V1439.9M374.5,1439.9H386.5M414,1462V1453M408,1453H420M471,1392.3V1365.3M465,1365.3H477M504,1418.6V1385.8M498,1385.8H510"/>
<g class="d"><circle cx="386" cy="1433" r="3.5"/><circle cx="375" cy="1440" r="3.5"/><circle cx="387" cy="1455" r="3.5"/><circle cx="375" cy="1455" r="3.5"/><circle cx="380" cy="1462" r="3.5"/><circle cx="383" cy="1466" r="3.5"/>
<circle cx="470" cy="1348" r="3.5"/><circle cx="470" cy="1375" r="3.5"/><circle cx="469" cy="1388" r="3.5"/><circle cx="462" cy="1412" r="3.5"/><circle cx="471" cy="1417" r="3.5"/><circle cx="478" cy="1413" r="3.5"/></g>
<g class="o"><circle cx="414" cy="1444" r="3.5"/><circle cx="412" cy="1458" r="3.5"/><circle cx="418" cy="1462" r="3.5"/><circle cx="406" cy="1464" r="3.5"/><circle cx="411" cy="1470" r="3.5"/><circle cx="418" cy="1468" r="3.5"/>
<circle cx="505" cy="1359" r="3.5"/><circle cx="504" cy="1397" r="3.5"/><circle cx="505" cy="1432" r="3.5"/><circle cx="496" cy="1440" r="3.5"/><circle cx="505" cy="1443" r="3.5"/><circle cx="511" cy="1443" r="3.5"/></g>
<path class="sg" d="M380,1428V1331H470V1340M470,1331V1308H505V1350"/>
<text class="st" x="425" y="1335">*</text><text class="st" x="489" y="1310">*</text>
<text class="xc" x="406" y="1510">Ctrl</text><text class="xc" x="486" y="1510">DMI</text>
</g>
</g>

<!-- PANEL H -->
<g id="panelH">
<text class="pl" x="558" y="1287">H</text>
<circle class="d" cx="631" cy="1281" r="3.5"/><circle class="o" cx="631" cy="1300" r="3.5"/>
<text class="lg" x="650" y="1285">Vehicle</text><text class="lg" x="650" y="1304">2-DG</text>
<g id="H-tnf">
<path class="ax" d="M614,1329V1493H797M609,1329H614M609,1370H614M609,1411H614M609,1452H614M609,1493H614"/>
<text class="tk12" x="607" y="1333">4000</text><text class="tk12" x="607" y="1374">3000</text><text class="tk12" x="607" y="1415">2000</text><text class="tk12" x="607" y="1456">1000</text><text class="tk12" x="607" y="1497">0</text>
<text class="yl" transform="translate(574,1413) rotate(-90)" font-size="12">[TNF<tspan font-style="italic">α</tspan>] pg/mL</text>
<rect class="bw" x="631" y="1445.9" width="22" height="47.1"/><rect class="bw" x="664" y="1444.6" width="22" height="48.4"/><rect class="bt" x="719" y="1427.4" width="24" height="65.6"/><rect class="bt" x="753" y="1454" width="23" height="39"/>
<path class="eb" d="M642,1445.9V1400.8M636,1400.8H648M675,1444.6V1398.7M669,1398.7H681M731,1427.4V1388.5M725,1388.5H737M764.5,1454V1429.5M758.5,1429.5H770.5"/>
<g class="d"><circle cx="648" cy="1369" r="3.5"/><circle cx="637" cy="1376" r="3.5"/><circle cx="643" cy="1436" r="3.5"/><circle cx="648" cy="1454" r="3.5"/><circle cx="638" cy="1458" r="3.5"/><circle cx="637" cy="1471" r="3.5"/><circle cx="653" cy="1477" r="3.5"/><circle cx="647" cy="1481" r="3.5"/><circle cx="637" cy="1489" r="3.5"/>
<circle cx="733" cy="1353" r="3.5"/><circle cx="726" cy="1415" r="3.5"/><circle cx="736" cy="1416" r="3.5"/><circle cx="726" cy="1441" r="3.5"/><circle cx="737" cy="1441" r="3.5"/><circle cx="738" cy="1456" r="3.5"/><circle cx="732" cy="1490" r="3.5"/></g>
<g class="o"><circle cx="676" cy="1350" r="3.5"/><circle cx="676" cy="1388" r="3.5"/><circle cx="676" cy="1443" r="3.5"/><circle cx="677" cy="1452" r="3.5"/><circle cx="683" cy="1460" r="3.5"/><circle cx="670" cy="1467" r="3.5"/><circle cx="682" cy="1479" r="3.5"/><circle cx="671" cy="1479" r="3.5"/><circle cx="676" cy="1490" r="3.5"/>
<circle cx="764" cy="1408" r="3.5"/><circle cx="760" cy="1440" r="3.5"/><circle cx="758" cy="1447" r="3.5"/><circle cx="770" cy="1446" r="3.5"/><circle cx="755" cy="1462" r="3.5"/><circle cx="775" cy="1453" r="3.5"/><circle cx="763" cy="1460" r="3.5"/><circle cx="767" cy="1471" r="3.5"/><circle cx="765" cy="1490" r="3.5"/></g>
<path class="sg" d="M642,1363V1332H735V1343M735,1332V1321H769V1395"/>
<text class="st" x="687" y="1336">*</text><text class="st" x="753" y="1325">*</text>
<text class="xc" x="659" y="1510">Ctrl</text><text class="xc" x="748" y="1510">DMI</text>
<path class="ax" d="M614,1516H797"/>
<text class="xc" x="705" y="1533">+LPS</text>
</g>
<g id="H-il6">
<path class="ax" d="M867,1329V1493H1052M862,1329H867M862,1383.7H867M862,1438.3H867M862,1493H867"/>
<text class="tk12" x="860" y="1333">3000</text><text class="tk12" x="860" y="1387.7">2000</text><text class="tk12" x="860" y="1442.3">1000</text><text class="tk12" x="860" y="1497">0</text>
<text class="yl" transform="translate(828,1413) rotate(-90)" font-size="12">[IL-6] pg/mL</text>
<rect class="bw" x="887" y="1428.5" width="24" height="64.5"/><rect class="bw" x="922" y="1425.8" width="24" height="67.2"/><rect class="bt" x="980" y="1397.3" width="23" height="95.7"/><rect class="bt" x="1014" y="1416.5" width="23" height="76.5"/>
<path class="eb" d="M899,1428.5V1394.6M893,1394.6H905M934,1425.8V1387.5M928,1387.5H940M991.5,1397.3V1346.5M985.5,1346.5H997.5M1025.5,1416.5V1373.8M1019.5,1373.8H1031.5"/>
<g class="d"><circle cx="892" cy="1381" r="3.5"/><circle cx="906" cy="1386.4" r="3.5"/><circle cx="899" cy="1400" r="3.5"/><circle cx="892" cy="1409.9" r="3.5"/><circle cx="892" cy="1438.3" r="3.5"/><circle cx="906" cy="1438.3" r="3.5"/><circle cx="888" cy="1471.1" r="3.5"/><circle cx="899" cy="1471.1" r="3.5"/><circle cx="910" cy="1471.1" r="3.5"/>
<circle cx="992" cy="1339.9" r="3.5"/><circle cx="1000" cy="1348.1" r="3.5"/><circle cx="985" cy="1353.6" r="3.5"/><circle cx="993" cy="1353.6" r="3.5"/><circle cx="1000" cy="1405.5" r="3.5"/><circle cx="986" cy="1411" r="3.5"/><circle cx="993" cy="1430.1" r="3.5"/><circle cx="987" cy="1468.4" r="3.5"/><circle cx="999" cy="1470" r="3.5"/></g>
<g class="o"><circle cx="934" cy="1356.3" r="3.5"/><circle cx="934" cy="1391.9" r="3.5"/><circle cx="934" cy="1408.3" r="3.5"/><circle cx="926" cy="1416.5" r="3.5"/><circle cx="942" cy="1420.8" r="3.5"/><circle cx="934" cy="1441" r="3.5"/><circle cx="934" cy="1460.2" r="3.5"/><circle cx="924" cy="1471.1" r="3.5"/><circle cx="944" cy="1471.1" r="3.5"/>
<circle cx="1025" cy="1354.7" r="3.5"/><circle cx="1028" cy="1375.5" r="3.5"/><circle cx="1020" cy="1378.2" r="3.5"/><circle cx="1033" cy="1380.9" r="3.5"/><circle cx="1017" cy="1386.4" r="3.5"/><circle cx="1032" cy="1435.6" r="3.5"/><circle cx="1023" cy="1438.3" r="3.5"/><circle cx="1019" cy="1473.9" r="3.5"/><circle cx="1031" cy="1473.9" r="3.5"/></g>
<path class="sg" d="M901,1367V1326H991V1332M991,1326V1303H1024V1345"/>
<text class="st" x="947" y="1329">*</text><text class="st" x="1008" y="1307">*</text>
<text class="xc" x="917" y="1510">Ctrl</text><text class="xc" x="1013" y="1510">DMI</text>
<path class="ax" d="M867,1516H1052"/>
<text class="xc" x="960" y="1533">+LPS</text>
</g>
</g>
</svg>
